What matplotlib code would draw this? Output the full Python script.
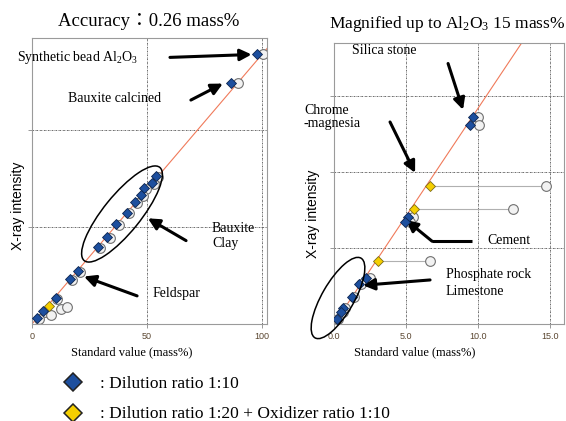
import matplotlib
matplotlib.use("Agg")
import matplotlib.pyplot as plt
from matplotlib.patches import Ellipse
from matplotlib.lines import Line2D
from matplotlib.transforms import IdentityTransform

plt.rcParams["font.family"] = ["Liberation Serif", "Noto Sans CJK JP", "DejaVu Serif"]
plt.rcParams["mathtext.fontset"] = "custom"
plt.rcParams["mathtext.rm"] = "Liberation Serif"
plt.rcParams["mathtext.it"] = "Liberation Serif:italic"

W, H = 566, 421

# ---- left panel: full range (x = standard mass%, y = X-ray intensity, arb.)
left_blue_x = [97.8, 86.5, 54.0, 52.2, 48.7, 47.4, 44.8, 41.3, 36.7, 32.8, 28.6, 19.8, 16.5, 10.4, 4.8, 2.2]
left_blue_y = [2.78, 2.49, 1.53, 1.45, 1.40, 1.33, 1.26, 1.15, 1.03, 0.90, 0.79, 0.55, 0.46, 0.27, 0.13, 0.06]
left_circ_x = [100.4, 89.5, 55.0, 53.0, 49.5, 48.3, 45.8, 42.3, 37.7, 33.8, 29.6, 20.8, 17.5, 11.0, 5.8, 3.0,
               12.6, 15.2, 8.3]
left_circ_y = [2.78, 2.49, 1.52, 1.44, 1.39, 1.32, 1.25, 1.14, 1.02, 0.89, 0.78, 0.54, 0.45, 0.26, 0.12, 0.05,
               0.155, 0.175, 0.09]
left_yel_x = [7.4]
left_yel_y = [0.19]
left_slope = 0.0278

# ---- right panel: magnified up to 15 mass%
right_blue_x = [9.65, 9.44, 5.14, 4.93, 2.22, 1.74, 1.25, 0.62, 0.48, 0.20]
right_blue_y = [2.72, 2.62, 1.41, 1.34, 0.60, 0.53, 0.36, 0.21, 0.16, 0.07]
right_circ_x = [10.0, 10.1, 5.5, 5.3, 2.5, 1.9, 1.4, 0.75, 0.6, 0.3]
right_circ_y = [2.72, 2.62, 1.41, 1.34, 0.61, 0.53, 0.36, 0.21, 0.16, 0.07]
right_yel_x = [6.67, 5.56, 3.06]
right_yel_y = [1.82, 1.51, 0.83]
right_yel_circ_x = [14.7, 12.4, 6.7]
right_slope = 0.284

blue, blue_edge = "#1d4f9e", "#0c2550"
yellow, yellow_edge = "#f5cf00", "#7a6a1a"
circ_face, circ_edge = "#f2f2f2", "#707070"
line_col = "#f07a5a"
tick_col = "#5a4630"


def fpx(x, y):
    return x / W, 1 - y / H


def style_axes(ax, xlim, ylim, xticks, xticklabels, ygrid):
    ax.set_xlim(*xlim)
    ax.set_ylim(*ylim)
    ax.set_xticks(xticks)
    ax.set_xticklabels(xticklabels, family="Liberation Sans", fontsize=6.5, color=tick_col)
    ax.set_yticks(ygrid)
    ax.set_yticklabels([])
    ax.tick_params(length=3, width=0.6, color="#888888", pad=3)
    for s in ax.spines.values():
        s.set_color("#9a9a9a")
        s.set_linewidth(0.8)
    for gx in xticks[1:]:
        ax.axvline(gx, color="#555555", lw=0.6, ls=(0, (2, 1, 0.6, 1)), zorder=0)
    for gy in ygrid:
        ax.axhline(gy, color="#555555", lw=0.6, ls=(0, (2, 1, 0.6, 1)), zorder=0)


def arrow(ax, tail, head):
    ax.annotate("", xy=head, xytext=tail,
                arrowprops=dict(arrowstyle="-|>", color="black", lw=2.2,
                                mutation_scale=17, shrinkA=0, shrinkB=0),
                annotation_clip=False)


fig = plt.figure(figsize=(W / 100, H / 100), dpi=100)

# left axes
ax1 = fig.add_axes([32 / W, 1 - 324 / H, 235 / W, 286 / H])
style_axes(ax1, (0, 102.2), (0, 2.95), [0, 50, 100], ["0", "50", "100"], [1, 2])
ax1.plot([0, 110], [0, 110 * left_slope], color=line_col, lw=0.8, zorder=1)
ax1.plot(left_circ_x, left_circ_y, "o", ms=7, mfc=circ_face, mec=circ_edge, mew=0.8, ls="none", zorder=2)
ax1.plot(left_yel_x, left_yel_y, "D", ms=4.6, mfc=yellow, mec=yellow_edge, mew=0.6, ls="none", zorder=3)
ax1.plot(left_blue_x, left_blue_y, "D", ms=4.8, mfc=blue, mec=blue_edge, mew=0.6, ls="none", zorder=4)

arrow(ax1, (60.0, 2.75), (95.5, 2.78))
arrow(ax1, (69.1, 2.31), (83.0, 2.48))
arrow(ax1, (67.0, 0.86), (50.4, 1.09))
arrow(ax1, (45.7, 0.29), (22.6, 0.49))

ell1 = Ellipse((122, H - 214), 120, 37, angle=51, transform=IdentityTransform(),
               fill=False, ec="black", lw=1.1)
fig.add_artist(ell1)

# right axes
ax2 = fig.add_axes([334 / W, 1 - 324 / H, 230 / W, 281 / H])
style_axes(ax2, (0, 15.97), (0, 3.70), [0, 5, 10, 15], ["0.0", "5.0", "10.0", "15.0"], [1, 2, 3])
ax2.plot([0, 16], [0, 16 * right_slope], color=line_col, lw=0.8, zorder=1)
for yx, yy, cx in zip(right_yel_x, right_yel_y, right_yel_circ_x):
    ax2.plot([yx, cx], [yy, yy], color="#b0b0b0", lw=0.8, zorder=1)
ax2.plot(right_yel_circ_x, right_yel_y, "o", ms=7, mfc=circ_face, mec=circ_edge, mew=0.8, ls="none", zorder=2)
ax2.plot(right_circ_x, right_circ_y, "o", ms=7, mfc=circ_face, mec=circ_edge, mew=0.8, ls="none", zorder=2)
ax2.plot(right_yel_x, right_yel_y, "D", ms=4.6, mfc=yellow, mec=yellow_edge, mew=0.6, ls="none", zorder=3)
ax2.plot(right_blue_x, right_blue_y, "D", ms=4.8, mfc=blue, mec=blue_edge, mew=0.6, ls="none", zorder=4)

arrow(ax2, (7.92, 3.43), (8.96, 2.82))
arrow(ax2, (3.89, 2.66), (5.63, 1.99))
ax2.plot([9.58, 6.81], [1.09, 1.09], color="black", lw=2.2, solid_capstyle="butt", zorder=5)
arrow(ax2, (6.81, 1.09), (5.0, 1.37))
arrow(ax2, (6.67, 0.58), (2.01, 0.51))

ell2 = Ellipse((338, H - 298), 92, 32, angle=60, transform=IdentityTransform(),
               fill=False, ec="black", lw=1.1)
fig.add_artist(ell2)

# titles and labels
fig.text(*fpx(149, 22), "Accuracy\uff1a0.26 mass%", fontsize=13.5, ha="center", va="center")
fig.text(*fpx(447, 24), r"Magnified up to Al$_{2}$O$_{3}$ 15 mass%", fontsize=12.5, ha="center", va="center")

fig.text(*fpx(132, 352), "Standard value (mass%)", fontsize=9, ha="center", va="center")
fig.text(*fpx(415, 352), "Standard value (mass%)", fontsize=9, ha="center", va="center")
fig.text(*fpx(18, 206), "X-ray intensity", family="Liberation Sans", fontsize=10,
         rotation=90, ha="center", va="center")
fig.text(*fpx(313, 214), "X-ray intensity", family="Liberation Sans", fontsize=10,
         rotation=90, ha="center", va="center")

ann = dict(fontsize=10, ha="left", va="center")
fig.text(*fpx(17, 57), r"Synthetic bead Al$_{2}$O$_{3}$", **ann)
fig.text(*fpx(68, 99), "Bauxite calcined", **ann)
fig.text(*fpx(212, 236), "Bauxite\nClay", linespacing=1.15, **ann)
fig.text(*fpx(153, 293), "Feldspar", **ann)
fig.text(*fpx(352, 51), "Silica stone", **ann)
fig.text(*fpx(304, 117), "Chrome\n-magnesia", linespacing=1.1, **ann)
fig.text(*fpx(487, 240), "Cement", **ann)
fig.text(*fpx(446, 283), "Phosphate rock\nLimestone", linespacing=1.35, **ann)

# legend
fig.add_artist(Line2D([73 / W], [1 - 382 / H], marker="D", ms=9, mfc=blue, mec="#222222",
                      mew=1.1, transform=fig.transFigure))
fig.add_artist(Line2D([73 / W], [1 - 413 / H], marker="D", ms=9, mfc=yellow, mec="#222222",
                      mew=1.1, transform=fig.transFigure))
fig.text(*fpx(100, 384), ": Dilution ratio 1:10", fontsize=12.5, ha="left", va="center")
fig.text(*fpx(100, 414), ": Dilution ratio 1:20 + Oxidizer ratio 1:10", fontsize=12.5, ha="left", va="center")

fig.savefig("out.png", dpi=100)
